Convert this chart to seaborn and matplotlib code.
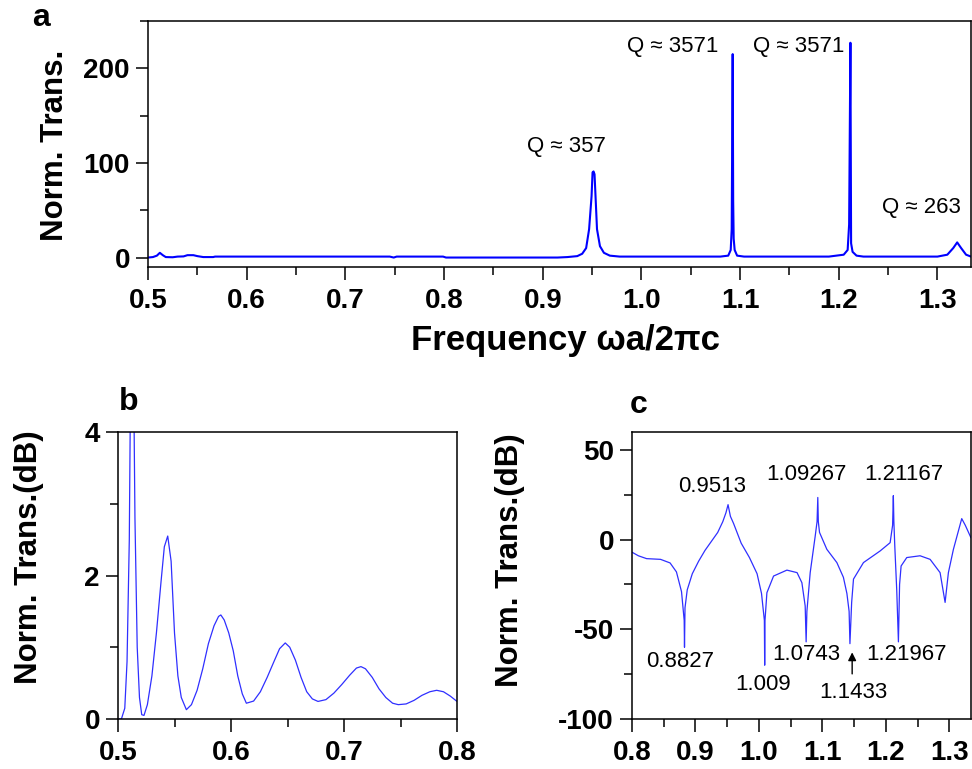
import matplotlib
matplotlib.use("Agg")
import matplotlib.pyplot as plt
from matplotlib.ticker import MultipleLocator, FormatStrFormatter
import pandas as pd
import seaborn as sns

# panel a: linear transmission spectrum
freq_a = [0.500, 0.505, 0.509, 0.512, 0.515, 0.518, 0.525, 0.530, 0.536, 0.540,
          0.546, 0.550, 0.556, 0.566, 0.568, 0.745, 0.749, 0.752, 0.799, 0.802,
          0.915, 0.925, 0.935, 0.940, 0.944, 0.947, 0.9495, 0.9505, 0.9515, 0.9525,
          0.9535, 0.955, 0.958, 0.962, 0.968, 0.978, 1.000, 1.080, 1.088, 1.0905,
          1.0915, 1.0925, 1.0930, 1.0935, 1.0945, 1.097, 1.104, 1.190, 1.205, 1.209,
          1.2105, 1.2118, 1.2125, 1.214, 1.218, 1.225, 1.300, 1.310, 1.316, 1.320,
          1.324, 1.329, 1.334]
trans_a = [0, 0.5, 2, 5, 2.5, 0.5, 0.3, 1, 1.2, 2.5,
           2.5, 1.5, 0.5, 0.5, 1, 1, 0, 1, 1, 0,
           0, 0.5, 1.5, 4, 10, 30, 65, 90, 91, 88,
           65, 30, 12, 5, 2, 1, 1, 1, 2, 8,
           30, 215, 60, 20, 8, 2, 1, 1, 3, 8,
           35, 227, 15, 6, 2, 1, 1, 3, 10, 16,
           10, 3, 1]

# panel b: low-frequency part in dB
freq_b = [0.500, 0.503, 0.506, 0.508, 0.510, 0.511, 0.5125, 0.514, 0.515, 0.517,
          0.519, 0.521, 0.523, 0.526, 0.530, 0.534, 0.538, 0.541, 0.544, 0.547,
          0.550, 0.553, 0.556, 0.5605, 0.565, 0.570, 0.575, 0.580, 0.585, 0.589,
          0.591, 0.594, 0.598, 0.602, 0.606, 0.610, 0.6136, 0.620, 0.626, 0.632,
          0.638, 0.643, 0.648, 0.652, 0.657, 0.662, 0.667, 0.672, 0.677, 0.684,
          0.691, 0.698, 0.705, 0.711, 0.715, 0.719, 0.725, 0.731, 0.737, 0.743,
          0.748, 0.755, 0.762, 0.769, 0.776, 0.782, 0.788, 0.794, 0.800]
trans_b = [0.00, 0.00, 0.15, 0.8, 2.5, 4.5, 6.0, 4.5, 2.8, 1.0,
           0.3, 0.06, 0.05, 0.2, 0.6, 1.2, 1.9, 2.4, 2.55, 2.2,
           1.2, 0.6, 0.3, 0.13, 0.2, 0.4, 0.7, 1.05, 1.3, 1.43,
           1.45, 1.38, 1.2, 0.95, 0.6, 0.35, 0.22, 0.25, 0.38, 0.58,
           0.8, 0.98, 1.06, 1.0, 0.82, 0.58, 0.38, 0.28, 0.245, 0.27,
           0.36, 0.48, 0.61, 0.71, 0.73, 0.7, 0.58, 0.42, 0.3, 0.22,
           0.2, 0.21, 0.26, 0.33, 0.38, 0.4, 0.38, 0.32, 0.245]

# panel c: resonances in dB
freq_c = [0.800, 0.810, 0.823, 0.845, 0.860, 0.870, 0.878, 0.8822, 0.8827, 0.8835,
          0.887, 0.895, 0.905, 0.915, 0.925, 0.935, 0.943, 0.948, 0.9513, 0.955,
          0.960, 0.972, 0.985, 0.997, 1.004, 1.0085, 1.009, 1.0095, 1.0125, 1.023,
          1.044, 1.060, 1.0676, 1.0728, 1.0743, 1.0755, 1.0807, 1.0886, 1.0915, 1.09267,
          1.0935, 1.0954, 1.1069, 1.1227, 1.133, 1.1385, 1.142, 1.1433, 1.146, 1.1489,
          1.1646, 1.1909, 1.2066, 1.2105, 1.21167, 1.2125, 1.214, 1.217, 1.21967, 1.2215,
          1.2239, 1.2328, 1.2538, 1.2696, 1.2853, 1.2932, 1.2984, 1.3063, 1.3194, 1.325,
          1.334]
trans_c = [-7, -9, -10.6, -11, -13, -18, -29, -45, -60, -38,
           -28, -19, -12, -6, -1, 4, 10, 15, 19.5, 13,
           9, -2, -10, -19, -30, -45, -70, -45, -29.6, -20.3,
           -17, -18.4, -24, -37, -57, -40, -18.4, 2, 10, 23.5,
           10, 4, -5.4, -12.8, -21, -30, -40, -58, -35, -22,
           -12.8, -6.3, -1.7, 8, 24.5, 10, -4, -28, -57, -25,
           -14.7, -10, -9, -11, -18.4, -35, -18.4, -5.4, 11.7, 8,
           1]

q_labels = ["Q \u2248 357", "Q \u2248 3571", "Q \u2248 3571", "Q \u2248 263"]
q_pos = [(0.9245, 117), (1.032, 223), (1.159, 223), (1.284, 53)]

res_labels = ["0.9513", "1.09267", "1.21167", "0.8827", "1.009",
              "1.0743", "1.21967", "1.1433"]
res_pos = [(0.926, 29.4), (1.0755, 36.5), (1.2287, 36.5), (0.876, -67.8),
           (1.006, -80.8), (1.0744, -64), (1.2318, -64), (1.149, -85)]

sns.set_style("ticks")
plt.rcParams["font.family"] = ["Liberation Sans", "DejaVu Sans"]
plt.rcParams["axes.unicode_minus"] = False
plt.rcParams["axes.linewidth"] = 1.1
plt.rcParams["axes.edgecolor"] = "black"
plt.rcParams["text.color"] = "black"
plt.rcParams["xtick.color"] = "black"
plt.rcParams["ytick.color"] = "black"
plt.rcParams["axes.labelcolor"] = "black"

W, H = 972, 769
fig = plt.figure(figsize=(W / 100, H / 100), dpi=100)


def px_axes(x0, y0, x1, y1):
    return fig.add_axes([x0 / W, 1 - y1 / H, (x1 - x0) / W, (y1 - y0) / H])


ax_a = px_axes(148, 21, 971, 267)
ax_b = px_axes(118, 432, 457, 719)
ax_c = px_axes(632, 432, 971, 719)

sns.lineplot(data=pd.DataFrame({"f": freq_a, "t": trans_a}), x="f", y="t",
             ax=ax_a, color="#0000ff", lw=1.5, sort=False, estimator=None)
sns.lineplot(data=pd.DataFrame({"f": freq_b, "t": trans_b}), x="f", y="t",
             ax=ax_b, color="#2f2fff", lw=0.9, sort=False, estimator=None)
sns.lineplot(data=pd.DataFrame({"f": freq_c, "t": trans_c}), x="f", y="t",
             ax=ax_c, color="#2f2fff", lw=0.9, sort=False, estimator=None)

ax_a.set_xlim(0.5, 1.334)
ax_a.set_ylim(-10, 250)
ax_a.xaxis.set_major_locator(MultipleLocator(0.1))
ax_a.xaxis.set_minor_locator(MultipleLocator(0.05))
ax_a.yaxis.set_major_locator(MultipleLocator(100))
ax_a.yaxis.set_minor_locator(MultipleLocator(50))

ax_b.set_xlim(0.5, 0.8)
ax_b.set_ylim(0, 4)
ax_b.xaxis.set_major_locator(MultipleLocator(0.1))
ax_b.xaxis.set_minor_locator(MultipleLocator(0.05))
ax_b.yaxis.set_major_locator(MultipleLocator(2))
ax_b.yaxis.set_minor_locator(MultipleLocator(1))

ax_c.set_xlim(0.8, 1.334)
ax_c.set_ylim(-100, 60)
ax_c.xaxis.set_major_locator(MultipleLocator(0.1))
ax_c.xaxis.set_minor_locator(MultipleLocator(0.05))
ax_c.yaxis.set_major_locator(MultipleLocator(50))
ax_c.yaxis.set_minor_locator(MultipleLocator(25))

for ax in (ax_a, ax_b, ax_c):
    ax.set_xlabel("")
    ax.set_ylabel("")
    ax.xaxis.set_major_formatter(FormatStrFormatter("%.1f"))
    ax.yaxis.set_major_formatter(FormatStrFormatter("%d"))
    for s in ax.spines.values():
        s.set_visible(True)
        s.set_color("black")
        s.set_linewidth(1.1)
    ax.tick_params(which="major", direction="out", length=9, width=1.1,
                   labelsize=20, top=False, right=False)
    ax.tick_params(axis="x", which="major", pad=6)
    ax.tick_params(axis="y", which="major", pad=4)
    ax.tick_params(which="minor", direction="out", length=5.5, width=1.1,
                   top=False, right=False)
    for lab in ax.get_xticklabels() + ax.get_yticklabels():
        lab.set_fontweight("bold")

for txt, (x, y) in zip(q_labels, q_pos):
    ax_a.text(x, y, txt, ha="center", va="center", fontsize=16)

for txt, (x, y) in zip(res_labels, res_pos):
    ax_c.text(x, y, txt, ha="center", va="center", fontsize=16)
ax_c.annotate("", xy=(1.1468, -61.3), xytext=(1.1468, -76.4),
              arrowprops=dict(arrowstyle="-|>", color="black", lw=1.0,
                              mutation_scale=12))

# axis titles and panel letters
fig.text(565 / W, 1 - 340 / H, "Frequency \u03c9a/2\u03c0c", ha="center", va="center",
         fontsize=25, fontweight="bold")
fig.text(55 / W, 1 - 145 / H, "Norm. Trans.", ha="center", va="center",
         rotation=90, fontsize=22.5, fontweight="bold")
fig.text(29 / W, 1 - 557 / H, "Norm. Trans.(dB)", ha="center", va="center",
         rotation=90, fontsize=22.5, fontweight="bold")
fig.text(510 / W, 1 - 560 / H, "Norm. Trans.(dB)", ha="center", va="center",
         rotation=90, fontsize=22.5, fontweight="bold")
fig.text(41 / W, 1 - 18 / H, "a", ha="center", va="center", fontsize=23, fontweight="bold")
fig.text(129 / W, 1 - 402 / H, "b", ha="center", va="center", fontsize=23, fontweight="bold")
fig.text(639 / W, 1 - 405 / H, "c", ha="center", va="center", fontsize=23, fontweight="bold")

fig.savefig("out.png", dpi=100)
